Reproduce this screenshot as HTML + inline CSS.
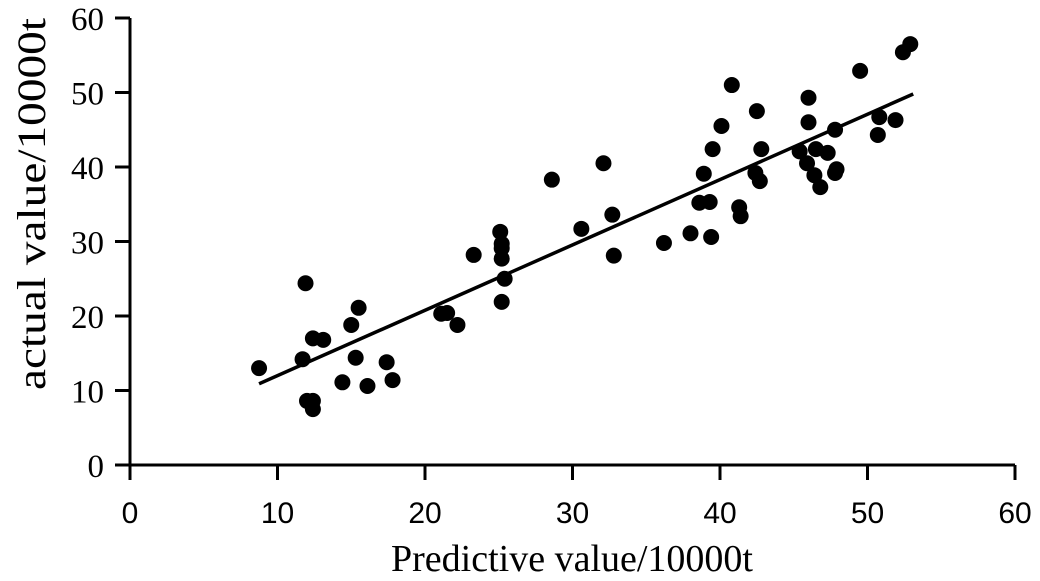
<!DOCTYPE html>
<html><head><meta charset="utf-8"><style>
body{margin:0;background:#fff}
svg text{fill:#000}
</style></head><body>
<svg id="chart" width="1040" height="576" xmlns="http://www.w3.org/2000/svg">
<g id="axes"></g>
<g id="marks"></g>
<text x="572" y="571" text-anchor="middle" font-family="Liberation Serif, serif" font-size="38">Predictive value/10000t</text>
<text transform="translate(45,204) rotate(-90)" text-anchor="middle" font-family="Liberation Serif, serif" font-size="40" textLength="372" lengthAdjust="spacingAndGlyphs">actual value/10000t</text>
</svg>
<script>
const xTicks=[0,10,20,30,40,50,60];
const yTicks=[0,10,20,30,40,50,60];
const xVals=[8.75,11.9,11.7,12.0,12.4,12.4,12.4,13.1,14.4,15.0,15.3,15.5,16.1,17.4,17.8,21.1,21.5,22.2,23.3,25.1,25.2,25.2,25.2,25.4,25.2,28.6,30.6,32.1,32.7,32.8,36.2,38.0,38.6,38.9,39.3,39.4,39.5,40.1,40.8,41.3,41.4,42.4,42.5,42.7,42.8,45.4,45.9,46.0,46.0,46.4,46.5,46.8,47.3,47.8,47.8,47.9,49.5,50.7,50.8,51.9,52.4,52.9];
const yVals=[13.0,24.4,14.2,8.6,8.6,7.5,17.0,16.8,11.1,18.8,14.4,21.1,10.6,13.8,11.4,20.3,20.4,18.8,28.2,31.3,29.7,29.1,27.7,25.0,21.9,38.3,31.7,40.5,33.6,28.1,29.8,31.1,35.2,39.1,35.3,30.6,42.4,45.5,51.0,34.6,33.4,39.2,47.5,38.1,42.4,42.1,40.5,49.3,46.0,38.9,42.4,37.3,41.9,45.0,39.2,39.7,52.9,44.3,46.7,46.3,55.4,56.5];
const trendX=[8.75,53.1];
const trendY=[10.9,49.8];
const NS='http://www.w3.org/2000/svg';
const X=v=>130+v*(1015-130)/60;
const Y=v=>465-v*(465-18)/60;
function mk(tag,attrs,parent){const e=document.createElementNS(NS,tag);for(const k in attrs)e.setAttribute(k,attrs[k]);parent.appendChild(e);return e;}
const ax=document.getElementById('axes');
let l=mk('line',{x1:130,y1:465,x2:1015,y2:465,stroke:'#000','stroke-width':3},ax);


l=mk('line',{x1:130,y1:465,x2:130,y2:18,stroke:'#000','stroke-width':3},ax);


xTicks.forEach(t=>{
 const tk=mk('line',{x1:X(t),y1:465,x2:X(t),y2:480,stroke:'#000','stroke-width':3},ax);
 
 
 const tx=mk('text',{x:X(t),y:523,'text-anchor':'middle','font-family':'Liberation Sans, sans-serif','font-size':30},ax);
 tx.textContent=t;
 
 
});
yTicks.forEach(t=>{
 const tk=mk('line',{x1:115,y1:Y(t),x2:130,y2:Y(t),stroke:'#000','stroke-width':3},ax);
 
 
 const tx=mk('text',{x:104,y:Y(t)+12,'text-anchor':'end','font-family':'Liberation Serif, serif','font-size':33},ax);
 tx.textContent=t;
 
 
});
const mg=document.getElementById('marks');
const tl=mk('line',{x1:X(trendX[0]),y1:Y(trendY[0]),x2:X(trendX[1]),y2:Y(trendY[1]),stroke:'#000','stroke-width':3.5},mg);


xVals.forEach((v,i)=>{
 const c=mk('circle',{cx:X(v),cy:Y(yVals[i]),r:8,fill:'#000'},mg);
 
 
});
</script>
</body></html>
